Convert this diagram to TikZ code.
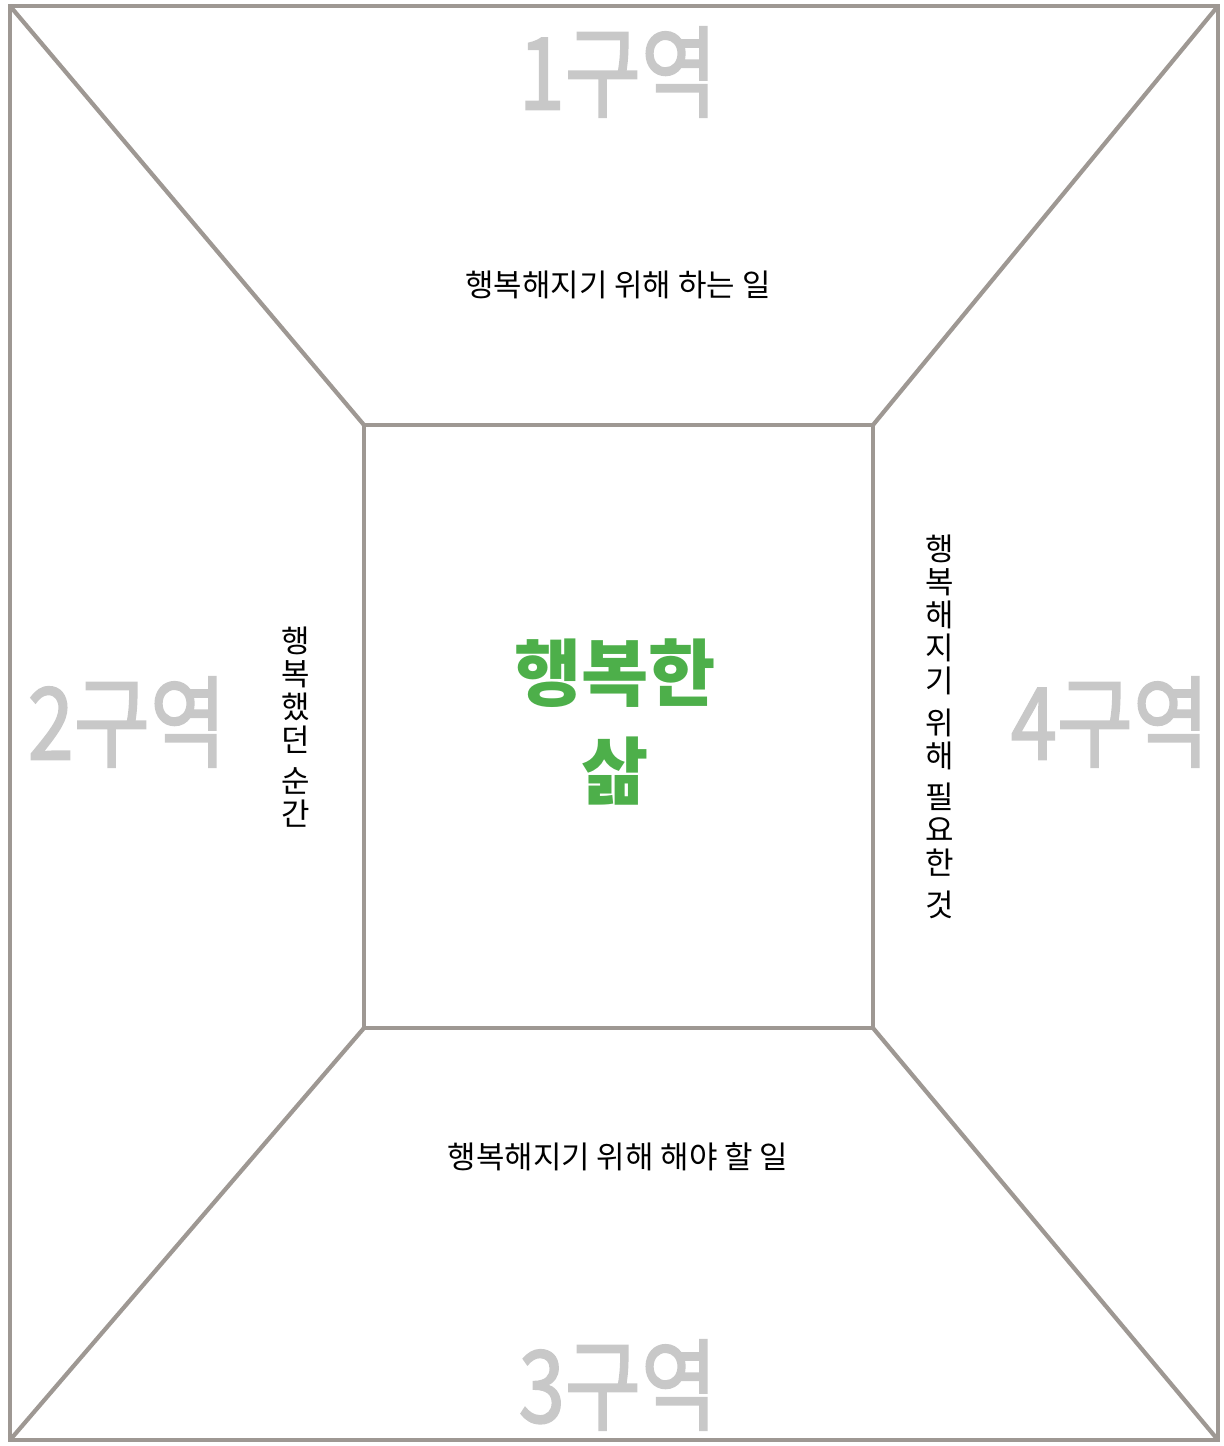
\documentclass[tikz,border=0pt]{standalone}
\usepackage{fontspec}
\setmainfont{Noto Sans CJK KR}
\newfontfamily\zonefont[FakeBold=2]{Noto Sans CJK KR}
\usepackage{xcolor}

\definecolor{frame}{HTML}{9E9893}
\definecolor{zonegray}{HTML}{C8C8C8}
\definecolor{lifegreen}{HTML}{4DAF4A}

\tikzset{
  wall/.style={frame, line width=6pt, line join=miter},
  zone/.style={zonegray, font=\zonefont\fontsize{142}{142}\selectfont, inner sep=0pt, xscale=0.83},
  hint/.style={black, font=\fontsize{44}{47}\selectfont, inner sep=0pt, align=center}
}

\begin{document}
\begin{tikzpicture}[x=0.05cm, y=-0.05cm]
        \useasboundingbox (0,0) rectangle (1223,1446);

        % Corners
        \coordinate (A) at (10,6);
        \coordinate (B) at (1218,6);
        \coordinate (C) at (1218,1440);
        \coordinate (D) at (10,1440);
        \coordinate (a) at (364,425);
        \coordinate (b) at (873,425);
        \coordinate (c) at (873,1028);
        \coordinate (d) at (364,1028);

        % Room
        \draw[wall] (A) -- (B) -- (C) -- (D) -- cycle;
        \draw[wall] (a) -- (b) -- (c) -- (d) -- cycle;
        \draw[wall] (A) -- (a);
        \draw[wall] (B) -- (b);
        \draw[wall] (C) -- (c);
        \draw[wall] (D) -- (d);

        % Zones
        \node[zone] (zone1) at (618,72) {1구역};
        \node[zone] (zone2) at (127,722) {2구역};
        \node[zone] (zone3) at (618,1385) {3구역};
        \node[zone] (zone4) at (1110,722) {4구역};

        % Hints
        \node[hint] (doing) at (618,285) {행복해지기 위해 하는 일};
        \node[hint] (todo) at (618,1157) {행복해지기 위해 해야 할 일};
        \node[hint] (moment) at (296,727) {행\\복\\했\\던\\[12pt]순\\간};
        \node[hint] (needs) at (940,727) {행\\복\\해\\지\\기\\[12pt]위\\해\\[12pt]필\\요\\한\\[12pt]것};

        % Centre
        \node[lifegreen, font=\fontsize{104}{140}\selectfont\bfseries, align=center, inner sep=0pt] (life) at (615,722) {행복한\\삶};
    \end{tikzpicture}
\end{document}
